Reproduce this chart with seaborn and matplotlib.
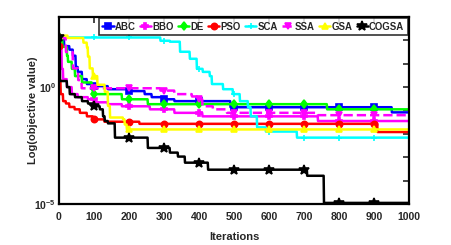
import numpy as np
import pandas as pd
import seaborn as sns
import matplotlib
matplotlib.use("Agg")
import matplotlib.pyplot as plt
from matplotlib.ticker import FixedLocator, FuncFormatter, NullLocator

# breakpoints of each convergence curve: iteration where the best value changes,
# and log10 of the objective value from that iteration on
abc_it = [0, 15, 30, 40, 48, 54, 66, 80, 94, 140, 200, 245, 265, 300, 330, 490, 951]
abc_lg = [2.07, 1.75, 1.6, 1.34, 0.86, 0.65, 0.34, 0.13, 0.04, -0.09, -0.17, -0.3, -0.43, -0.52, -0.6, -0.86, -1.08]

bbo_it = [0, 3, 8, 12, 23, 37, 54, 83, 103, 140, 180, 260, 330, 410, 740]
bbo_lg = [2.1, 1.7, 0.78, 0.34, 0.0, -0.3, -0.43, -0.52, -0.65, -0.73, -0.82, -0.95, -1.1, -1.25, -1.45]

de_it = [0, 10, 23, 26, 37, 46, 66, 94, 97, 180, 254, 766]
de_lg = [2.15, 1.72, 1.34, 1.08, 0.78, 0.47, 0.2, -0.09, -0.3, -0.52, -0.73, -0.95]

pso_it = [0, 2, 5, 12, 20, 30, 45, 60, 80, 97, 130, 230, 910]
pso_lg = [1.75, 0.3, -0.3, -0.6, -0.7, -0.85, -0.95, -1.1, -1.25, -1.38, -1.48, -1.57, -1.92]

sca_it = [0, 290, 317, 346, 374, 394, 411, 431, 437, 469, 497, 517, 540, 548, 566, 591, 680]
sca_lg = [2.12, 1.98, 1.94, 1.51, 1.21, 0.78, 0.65, 0.47, 0.13, -0.09, -0.3, -0.6, -0.86, -1.25, -1.72, -1.9, -2.16]

ssa_it = [0, 20, 40, 55, 65, 290, 330, 380, 400, 410, 440, 480, 740]
ssa_lg = [2.1, 1.5, 0.8, 0.3, -0.05, -0.15, -0.3, -0.4, -0.52, -0.82, -0.95, -1.1, -1.2]

gsa_it = [0, 25, 70, 80, 83, 88, 97, 110, 131, 140, 146, 183, 188, 194]
gsa_lg = [2.2, 2.1, 1.9, 1.7, 1.3, 0.8, 0.47, 0.1, -0.2, -0.8, -1.3, -1.38, -1.6, -1.81]

cogsa_it = [0, 3, 23, 31, 46, 66, 83, 97, 117, 126, 131, 140, 160, 254, 317, 340, 360, 426, 709, 757]
cogsa_lg = [2.15, 0.26, 0.0, -0.3, -0.43, -0.6, -0.7, -0.82, -0.95, -1.25, -1.45, -1.55, -2.16, -2.6,
            -2.8, -2.97, -3.23, -3.53, -3.79, -4.95]

names = ["ABC", "BBO", "DE", "PSO", "SCA", "SSA", "GSA", "COGSA"]
curves = [(abc_it, abc_lg), (bbo_it, bbo_lg), (de_it, de_lg), (pso_it, pso_lg),
          (sca_it, sca_lg), (ssa_it, ssa_lg), (gsa_it, gsa_lg), (cogsa_it, cogsa_lg)]
colors = ["#0000ff", "#ff00ff", "#00ff00", "#ff0000", "#00ffff", "#ff00ff", "#ffff00", "#000000"]
markers = ["s", "P", "d", "o", "+", "v", "^", "*"]
styles = ["-", "-", "-", "-", "-", "--", "-", "-"]

iters = np.arange(0, 1001)

# best-so-far value at each iteration (held between breakpoints)
frames = []
for name, (it, lg) in zip(names, curves):
    idx = np.searchsorted(np.array(it), iters, side="right") - 1
    frames.append(pd.DataFrame({"Iterations": iters,
                                "value": 10.0 ** np.array(lg)[idx],
                                "method": name}))
data = pd.concat(frames, ignore_index=True)

sns.set_style("white")
plt.rcParams["font.family"] = ["Liberation Sans Narrow", "Liberation Sans", "DejaVu Sans"]
plt.rcParams["mathtext.default"] = "regular"

fig = plt.figure(figsize=(4.52, 2.45), dpi=100)
ax = fig.add_axes([0.1305, 0.167, 0.7745, 0.764])

for name, c, m, ls in zip(names, colors, markers, styles):
    sub = data[data["method"] == name]
    ms = 7 if m == "*" else 4.5
    sns.lineplot(x="Iterations", y="value", data=sub, ax=ax, color=c, marker=m,
                 markersize=ms, markevery=slice(0, 1000, 100), linestyle=ls,
                 linewidth=1.8, markeredgewidth=1.2, markeredgecolor=c,
                 label=name, estimator=None)

ax.set_yscale("log")
ax.set_xlim(0, 1000)
ax.set_ylim(1e-5, 1e3)
ax.set_xticks(range(0, 1001, 100))
ax.yaxis.set_major_locator(FixedLocator([10.0 ** k for k in range(-5, 4)]))
ax.yaxis.set_minor_locator(NullLocator())
ax.yaxis.set_major_formatter(FuncFormatter(
    lambda v, p: {1.0: "$10^{0}$", 1e-5: "$10^{-5}$"}.get(round(v, 8), "")))
ax.tick_params(direction="in", length=4, width=1.2, top=True, right=True,
               labelsize=7.5)
ax.tick_params(axis="x", pad=6)
ax.tick_params(axis="y", pad=2)
for t in ax.get_xticklabels() + ax.get_yticklabels():
    t.set_fontweight("bold")
for s in ax.spines.values():
    s.set_color("black")
    s.set_linewidth(1.6)

ax.set_xlabel("Iterations", fontsize=8, fontweight="bold", labelpad=7)
ax.set_ylabel("Log(objective value)", fontsize=8, fontweight="bold")
ax.yaxis.set_label_coords(-0.06, 0.5)

leg = ax.legend(loc="upper right", ncol=8, frameon=True, fancybox=False,
                handlelength=1.2, handletextpad=0.1, columnspacing=0.45,
                borderpad=0.35, borderaxespad=0.15, prop={"weight": "bold", "size": 6.9})
leg.get_frame().set_edgecolor("black")
leg.get_frame().set_linewidth(1.2)

fig.savefig("out.png", dpi=100)
